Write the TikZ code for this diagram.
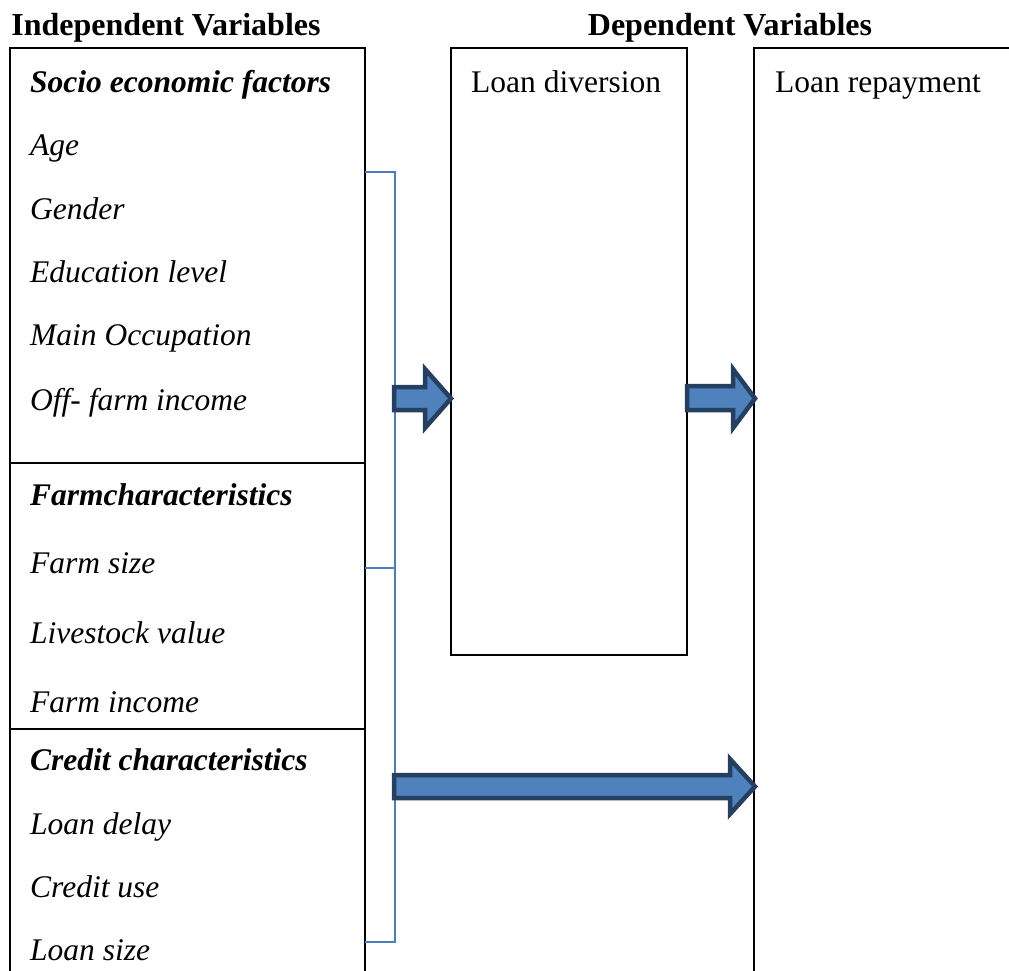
\documentclass[tikz,border=0pt]{standalone}
\usepackage{fontspec}
\setmainfont{Liberation Serif}
\usetikzlibrary{calc}
\definecolor{bracketblue}{RGB}{74,126,187}
\definecolor{arrowfill}{RGB}{79,129,189}
\definecolor{arrowline}{RGB}{36,63,96}
\tikzset{
  boxline/.style={draw=black, line width=1.4pt},
  brk/.style={draw=bracketblue, line width=1.4pt},
  bigarrow/.style={fill=arrowfill, draw=arrowline, line width=4.5pt, line join=miter},
  item/.style={anchor=base west, inner sep=0pt, font=\fontsize{31.5}{36}\selectfont\itshape},
  itemhead/.style={anchor=base west, inner sep=0pt, font=\fontsize{31.5}{36}\selectfont\bfseries\itshape},
  plain/.style={anchor=base west, inner sep=0pt, font=\fontsize{31.5}{36}\selectfont},
  title/.style={anchor=base, inner sep=0pt, font=\fontsize{32}{36}\selectfont\bfseries},
}
\begin{document}
\begin{tikzpicture}[x=1pt, y=-1pt]
\useasboundingbox (0,0) rectangle (1009,971);
% titles
\node[title] (tind) at (166,36) {Independent Variables};
\node[title] (tdep) at (730,36) {Dependent Variables};
% left box
\draw[boxline] (10,971) -- (10,48) -- (365,48) -- (365,971);
\draw[boxline] (10,463) -- (365,463);
\draw[boxline] (10,729) -- (365,729);
% middle box
\draw[boxline] (451,48) rectangle (687,655);
% right box
\draw[boxline] (1009,48) -- (754,48) -- (754,971);
% left texts
\node[itemhead] (h1) at (30,93) {Socio economic factors};
\node[item] (a1) at (30,156) {Age};
\node[item] (a2) at (30,219) {Gender};
\node[item] (a3) at (30,282) {Education level};
\node[item] (a4) at (30,345) {Main Occupation};
\node[item] (a5) at (30,410) {Off- farm income};
\node[itemhead] (h2) at (30,505) {Farmcharacteristics};
\node[item] (b1) at (30,573) {Farm size};
\node[item] (b2) at (30,643) {Livestock value};
\node[item] (b3) at (30,712) {Farm income};
\node[itemhead] (h3) at (30,770) {Credit characteristics};
\node[item] (c1) at (30,834) {Loan delay};
\node[item] (c2) at (30,897) {Credit use};
\node[item] (c3) at (30,960) {Loan size};
% dependent texts
\node[plain] (ld) at (471,93) {Loan diversion};
\node[plain] (lr) at (775,93) {Loan repayment};
% bracket
\coordinate (bt) at (395,172);
\coordinate (bm) at (395,568);
\coordinate (bb) at (395,942);
\draw[brk] (365,172) -- (bt) -- (bb) -- (365,942);
\draw[brk] (365,568) -- (bm);
% arrow 1: bracket -> loan diversion
\draw[bigarrow] (394,387) -- (425,387) -- (425,369) -- (451,398.5) -- (425,428) -- (425,410) -- (394,410) -- cycle;
% arrow 2: loan diversion -> loan repayment
\draw[bigarrow] (687,386) -- (733,386) -- (733,369) -- (755,398.5) -- (733,428) -- (733,410) -- (687,410) -- cycle;
% arrow 3: bracket -> loan repayment
\draw[bigarrow] (394,775) -- (730,775) -- (730,759) -- (755,786.5) -- (730,814) -- (730,798) -- (394,798) -- cycle;
\end{tikzpicture}
\end{document}
